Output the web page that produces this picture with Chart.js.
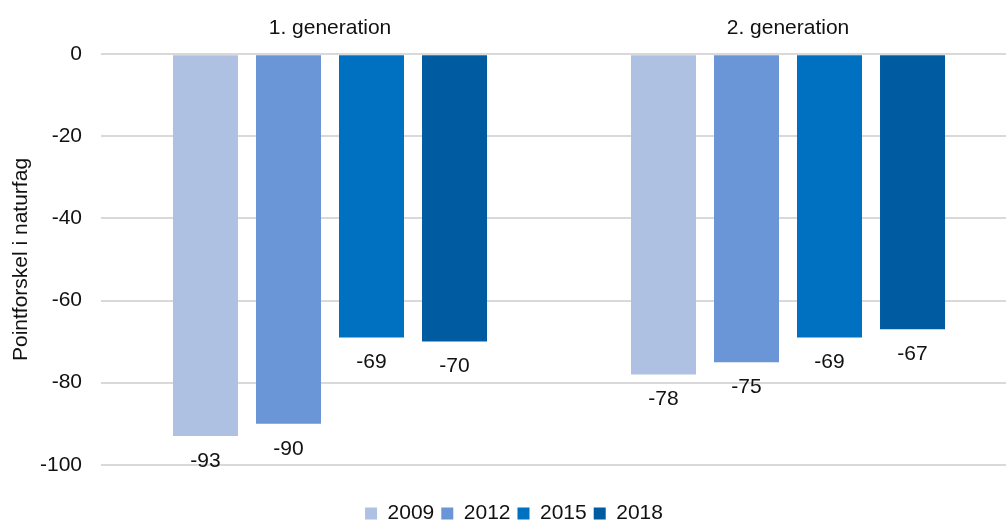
<!DOCTYPE html>
<html>
<head>
<meta charset="utf-8">
<script src="https://cdn.jsdelivr.net/npm/chart.js@4.4.1/dist/chart.umd.min.js"></script>
<style>
  html, body { margin: 0; padding: 0; background: #fff; }
  #wrap { width: 1006px; height: 521px; }
</style>
</head>
<body>
<div id="wrap"><canvas id="pisaChart" width="1006" height="521"></canvas></div>
<script>
// --- data ---
const generationer = ['1. generation', '2. generation'];
const aar = ['2009', '2012', '2015', '2018'];
const v2009 = [-93, -78];
const v2012 = [-90, -75];
const v2015 = [-69, -69];
const v2018 = [-70, -67];
const yTicks = [0, -20, -40, -60, -80, -100];

const farver = ['#AFC1E3', '#6A95D6', '#0070C0', '#005BA1'];
const serier = [v2009, v2012, v2015, v2018];

const tekstFont = { family: '"Liberation Sans", Arial, sans-serif', size: 21 };

// værdier under hver søjle
const vaerdiLabels = {
    id: 'vaerdiLabels',
    afterDatasetsDraw(chart) {
        const ctx = chart.ctx;
        ctx.save();
        ctx.font = '21px "Liberation Sans", Arial, sans-serif';
        ctx.fillStyle = '#111';
        ctx.textAlign = 'center';
        ctx.textBaseline = 'middle';
        chart.data.datasets.forEach(function (ds, i) {
            chart.getDatasetMeta(i).data.forEach(function (bar, j) {
                ctx.fillText(String(ds.data[j]), bar.x, bar.y + 25);
            });
        });
        ctx.restore();
    }
};

// plotområdet fortsætter lidt ud over højre kant (som i Excel-figuren)
const bredereX = {
    id: 'bredereX',
    afterLayout(chart) {
        const x = chart.scales.x;
        x.right = chart.chartArea.right + 11;
        x.width = x.right - x.left;
        x.configure();
        chart.chartArea.right = x.right;
        chart.chartArea.width = x.width;
        // legenden sidder lidt til højre for midten
        if (chart.legend) chart.legend.left += 13;
    }
};

document.addEventListener('DOMContentLoaded', function () {
    const ctx = document.getElementById('pisaChart');
    new Chart(ctx, {
        type: 'bar',
        data: {
            labels: generationer,
            datasets: aar.map(function (a, i) {
                return {
                    label: a,
                    data: serier[i],
                    backgroundColor: farver[i],
                    borderWidth: 0,
                    categoryPercentage: 0.725,
                    barPercentage: 0.783
                };
            })
        },
        options: {
            responsive: false,
            animation: false,
            layout: { padding: { top: 11, left: 9, right: 0, bottom: -13 } },
            scales: {
                x: {
                    position: 'top',
                    grid: { display: false },
                    border: { display: false },
                    ticks: { color: '#111', font: tekstFont, padding: 5 }
                },
                y: {
                    min: -100,
                    max: 0,
                    afterBuildTicks(scale) {
                        scale.ticks = yTicks.map(function (v) { return { value: v }; });
                    },
                    afterFit(scale) {
                        scale.width = 92;
                    },
                    grid: { color: '#d9d9d9', lineWidth: 2, drawTicks: false },
                    border: { display: false },
                    ticks: { color: '#111', font: tekstFont, padding: 19 },
                    title: {
                        display: true,
                        text: 'Pointforskel i naturfag',
                        color: '#111',
                        font: tekstFont,
                        padding: { top: 0, bottom: 5 }
                    }
                }
            },
            plugins: {
                legend: {
                    position: 'bottom',
                    title: { display: true, text: '', padding: { top: 30, bottom: 0 }, font: { size: 1 } },
                    labels: {
                        color: '#111',
                        font: tekstFont,
                        boxWidth: 12,
                        boxHeight: 12,
                        padding: 7
                    }
                },
                tooltip: { enabled: false }
            }
        },
        plugins: [bredereX, vaerdiLabels]
    });
});
</script>
</body>
</html>
